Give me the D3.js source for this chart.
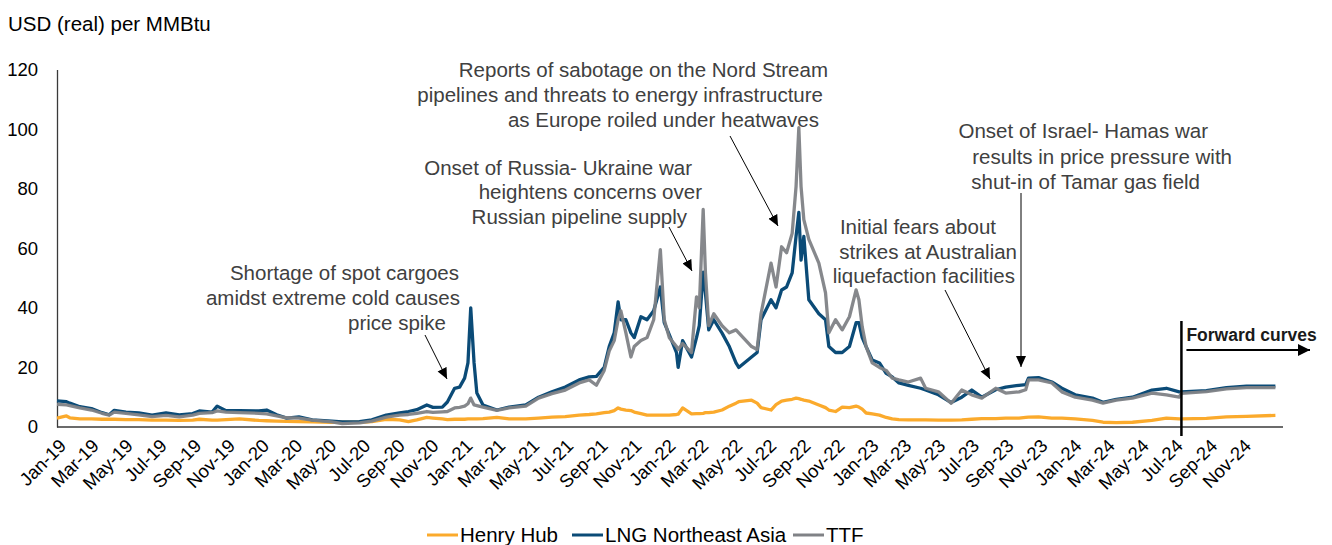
<!DOCTYPE html>
<html>
<head>
<meta charset="utf-8">
<script src="https://cdn.jsdelivr.net/npm/d3@7"></script>
<style>
  body { margin: 0; background: #fff; }
  svg { font-family: "Liberation Sans", Arial, sans-serif; }
</style>
</head>
<body>
<div id="chart"></div>
<script>
// prices, USD (real) per MMBtu
const dates = [
  "2019-01-01","2019-01-18","2019-01-24","2019-02-11","2019-03-04","2019-03-23","2019-04-05","2019-04-14","2019-05-05","2019-05-28",
  "2019-06-21","2019-07-16","2019-08-09","2019-09-02","2019-09-14","2019-10-07","2019-10-16","2019-11-01","2019-11-25","2019-12-30",
  "2020-01-13","2020-01-31","2020-02-18","2020-03-11","2020-04-04","2020-05-09","2020-05-28","2020-06-28","2020-07-20","2020-08-15",
  "2020-09-08","2020-09-24","2020-10-09","2020-10-27","2020-11-07","2020-11-24","2020-12-03","2020-12-16","2020-12-25","2021-01-03",
  "2021-01-09","2021-01-14","2021-01-20","2021-01-25","2021-02-05","2021-03-02","2021-03-24","2021-04-23","2021-05-16","2021-06-09",
  "2021-07-03","2021-07-28","2021-08-15","2021-08-28","2021-09-11","2021-09-20","2021-09-29","2021-10-06","2021-10-11","2021-10-20",
  "2021-10-29","2021-11-04","2021-11-16","2021-11-27","2021-12-09","2021-12-21","2021-12-28","2022-01-06",
  "2022-01-19","2022-01-22","2022-01-30","2022-02-15","2022-02-24","2022-03-01","2022-03-08","2022-03-12","2022-03-18","2022-03-27",
  "2022-04-11","2022-04-24","2022-05-06","2022-05-11","2022-06-03","2022-06-13","2022-06-20","2022-07-08","2022-07-17","2022-07-27",
  "2022-08-05","2022-08-15","2022-08-22","2022-08-27","2022-08-31","2022-09-05","2022-09-14","2022-10-02","2022-10-14","2022-10-20",
  "2022-11-01","2022-11-13","2022-11-26","2022-12-08","2022-12-13","2022-12-19","2022-12-26","2023-01-06",
  "2023-01-19","2023-01-31","2023-02-11","2023-02-23","2023-03-12","2023-04-03","2023-04-12","2023-05-05","2023-05-28","2023-06-16",
  "2023-07-04","2023-07-22","2023-08-16","2023-09-03","2023-09-27","2023-10-09","2023-10-14","2023-11-01","2023-11-25","2023-12-13",
  "2024-01-06",
  "2024-02-06","2024-02-25","2024-03-20","2024-04-18","2024-05-23","2024-06-18","2024-07-11","2024-07-15","2024-08-29","2024-10-04",
  "2024-11-09","2024-12-31"
];

const henryHub = [
  3.0,3.7,3.1,2.7,2.7,2.6,2.6,2.6,2.5,2.5,
  2.3,2.3,2.2,2.3,2.6,2.3,2.3,2.5,2.7,2.2,
  2.1,2.0,1.9,1.8,1.7,1.6,1.6,1.6,1.8,2.6,
  2.4,1.8,2.4,3.2,3.0,2.7,2.5,2.6,2.6,2.6,
  2.7,2.7,2.7,2.7,2.8,3.2,2.7,2.7,3.0,3.3,
  3.5,4.0,4.2,4.4,4.8,5.0,5.5,6.4,6.0,5.7,
  5.5,5.0,4.5,4.0,4.0,4.0,4.0,4.0,
  4.2,4.3,6.4,4.4,4.5,4.5,4.6,4.8,4.8,5.0,
  5.7,7.0,8.0,8.5,9.0,8.0,6.5,5.7,7.5,8.7,
  9.0,9.3,9.7,9.5,9.3,9.0,8.7,7.4,6.5,5.7,
  5.2,6.7,6.5,7.0,6.7,6.0,4.7,4.4,
  4.0,3.2,2.7,2.5,2.4,2.4,2.4,2.3,2.3,2.4,
  2.6,2.8,2.8,3.0,3.0,3.2,3.3,3.4,3.0,3.0,
  2.7,
  2.2,1.6,1.5,1.6,2.2,3.0,2.7,2.7,2.9,3.4,
  3.6,3.9
];

const lngNortheastAsia = [
  8.8,8.5,8.0,6.8,6.2,4.8,4.1,5.6,5.0,4.7,
  4.0,4.7,4.1,4.5,5.4,5.0,7.0,5.5,5.5,5.4,
  5.7,4.1,3.0,3.4,2.4,2.0,1.7,1.8,2.4,4.0,
  4.7,5.2,5.8,7.4,6.6,6.7,8.4,13.0,13.4,16.4,
  21.5,40.0,21.5,11.4,7.4,5.7,6.7,7.4,10.0,11.8,
  13.4,15.8,16.8,17.0,20.0,27.0,31.6,42.0,36.0,36.0,
  31.6,30.0,37.0,36.0,39.0,47.0,35.0,31.0,
  25.0,20.0,29.0,23.5,30.0,34.0,52.0,45.0,32.6,36.0,
  31.5,27.0,21.5,20.0,23.5,25.0,36.0,42.7,40.0,46.0,
  47.0,51.7,64.0,72.0,56.0,64.0,42.7,38.0,36.0,27.0,
  25.0,25.0,27.0,35.0,35.0,30.0,27.0,22.5,
  21.5,18.0,16.8,14.8,14.0,13.0,12.4,10.8,8.2,10.0,
  12.4,10.0,12.5,13.4,14.0,14.2,16.4,16.6,15.1,13.0,
  10.8,
  9.7,8.3,9.3,10.0,12.4,13.0,11.8,11.8,12.2,13.2,
  13.7,13.7
];

const ttf = [
  7.6,7.4,7.2,6.4,5.7,4.6,4.0,5.0,4.6,4.1,
  3.5,3.9,3.4,4.0,4.6,4.8,5.4,5.0,4.8,4.6,
  4.4,3.7,3.1,3.0,2.3,1.7,1.1,1.4,2.0,3.3,
  4.0,4.2,4.6,5.2,4.9,5.1,5.2,6.4,6.6,7.0,
  7.8,9.7,7.4,7.2,6.7,5.6,6.4,7.0,9.7,11.2,
  12.4,14.8,15.8,14.0,19.0,25.5,29.0,36.0,39.0,31.6,
  23.5,27.0,29.0,30.0,36.0,59.5,36.0,30.0,
  27.0,26.0,28.0,25.0,43.7,40.0,73.0,52.0,34.0,38.0,
  34.0,31.6,32.6,31.6,27.0,26.0,38.0,55.0,47.0,60.5,
  58.5,65.0,80.7,100.5,80.7,69.6,63.0,55.0,45.0,31.6,
  36.0,32.6,37.0,46.0,42.7,33.6,27.0,21.5,
  20.0,19.0,16.4,15.8,15.1,16.4,13.0,11.8,8.0,12.4,
  10.8,9.7,13.0,11.4,11.8,12.5,15.8,15.8,14.8,11.8,
  10.0,
  9.0,8.0,9.0,9.7,11.4,10.8,10.0,11.3,11.9,12.8,
  13.2,13.2
];

const seriesNames = ["Henry Hub", "LNG Northeast Asia", "TTF"];
const seriesColors = ["#FBAA2C", "#0B4B77", "#808286"];
const yTicks = [0, 20, 40, 60, 80, 100, 120];
const forwardStart = "2024-07-15";

const annotations = [
  { lines: [["Shortage of spot cargoes", 459, 280], ["amidst extreme cold causes", 460, 305], ["price spike", 446, 330]],
    arrow: [425, 335, 447, 379] },
  { lines: [["Onset of Russia- Ukraine war", 692, 175], ["heightens concerns over", 702, 199], ["Russian pipeline supply", 687, 224]],
    arrow: [669, 227, 692, 271] },
  { lines: [["Reports of sabotage on the Nord Stream", 828, 77], ["pipelines and threats to energy infrastructure", 823, 102], ["as Europe roiled under heatwaves", 819, 127]],
    arrow: [730, 136, 778, 226] },
  { lines: [["Initial fears about", 996, 234], ["strikes at Australian", 1017, 259], ["liquefaction facilities", 1015, 283]],
    arrow: [945, 290, 990, 379] },
  { lines: [["Onset of Israel- Hamas war", 1208, 138], ["results in price pressure with", 1232, 164], ["shut-in of Tamar gas field", 1200, 189]],
    arrow: [1021, 193, 1021, 367] }
];

const width = 1332, height = 545;
const parse = d3.timeParse("%Y-%m-%d");

const svg = d3.select("#chart").append("svg")
  .attr("width", width)
  .attr("height", height);

svg.append("defs").append("marker")
  .attr("id", "head")
  .attr("markerUnits", "userSpaceOnUse")
  .attr("markerWidth", 12)
  .attr("markerHeight", 12)
  .attr("refX", 11)
  .attr("refY", 5)
  .attr("orient", "auto")
  .append("path")
  .attr("d", "M0,0 L11,5 L0,10 Z")
  .attr("fill", "#000");

svg.select("defs").append("marker")
  .attr("id", "headBig")
  .attr("markerUnits", "userSpaceOnUse")
  .attr("markerWidth", 14)
  .attr("markerHeight", 14)
  .attr("refX", 12)
  .attr("refY", 6)
  .attr("orient", "auto")
  .append("path")
  .attr("d", "M0,0 L12,6 L0,12 Z")
  .attr("fill", "#000");

const x = d3.scaleTime()
  .domain([new Date(2019, 0, 1), new Date(2025, 0, 1)])
  .range([57, 57 + 72 * 16.93]);

const y = d3.scaleLinear()
  .domain([0, 120])
  .range([427, 69.5]);

// y axis
const yAxis = svg.append("g")
  .attr("transform", "translate(57,0)")
  .call(d3.axisLeft(y).tickValues(yTicks).tickSize(0).tickPadding(19));
yAxis.select(".domain").attr("stroke", "#3a3a3a").attr("stroke-width", 1.3);
yAxis.selectAll("text")
  .attr("fill", "#000")
  .style("font-size", "18.5px")
  .style("font-family", "Liberation Sans, Arial, sans-serif");

// x axis, labels mid-month every second month
const monthTicks = d3.timeMonth.range(new Date(2019, 0, 1), new Date(2025, 0, 1), 2)
  .map((d) => new Date(d.getFullYear(), d.getMonth(), 15));

const xAxis = svg.append("g")
  .attr("transform", `translate(0,${y(0)})`)
  .call(d3.axisBottom(x).tickValues(monthTicks).tickSize(0).tickFormat(d3.timeFormat("%b-%y")));
xAxis.select(".domain").remove();
xAxis.selectAll("text")
  .attr("x", 0)
  .attr("y", 0)
  .attr("dy", 0)
  .attr("transform", "translate(2,20) rotate(-45)")
  .style("text-anchor", "end")
  .style("font-size", "18.5px")
  .style("font-family", "Liberation Sans, Arial, sans-serif")
  .attr("fill", "#000");

svg.append("line")
  .attr("x1", 57).attr("x2", 1283)
  .attr("y1", y(0)).attr("y2", y(0))
  .attr("stroke", "#3a3a3a")
  .attr("stroke-width", 1.3);

svg.append("text")
  .attr("x", 8)
  .attr("y", 31)
  .style("font-size", "20.5px")
  .attr("fill", "#000")
  .text("USD (real) per MMBtu");

// series
const seriesValues = [henryHub, lngNortheastAsia, ttf];
const series = seriesNames.map((name, i) => ({
  name: name,
  color: seriesColors[i],
  points: dates.map((d, j) => ({ date: parse(d), value: seriesValues[i][j] }))
}));

const line = d3.line()
  .x((d) => x(d.date))
  .y((d) => y(d.value));

svg.append("g")
  .attr("fill", "none")
  .attr("stroke-linejoin", "round")
  .selectAll("path")
  .data(series)
  .join("path")
  .attr("stroke", (d) => d.color)
  .attr("stroke-width", 3.3)
  .attr("opacity", (d) => (d.name === "TTF" ? 0.95 : 1))
  .attr("d", (d) => line(d.points));

// forward curves marker
const fx = x(parse(forwardStart));
svg.append("line")
  .attr("x1", fx).attr("x2", fx)
  .attr("y1", 321).attr("y2", 436)
  .attr("stroke", "#000")
  .attr("stroke-width", 2.5);

svg.append("text")
  .attr("x", fx + 5)
  .attr("y", 341)
  .style("font-size", "17.5px")
  .style("font-weight", "bold")
  .attr("fill", "#1a1a1a")
  .text("Forward curves");

svg.append("line")
  .attr("x1", fx + 5).attr("x2", 1310)
  .attr("y1", 350).attr("y2", 350)
  .attr("stroke", "#000")
  .attr("stroke-width", 2)
  .attr("marker-end", "url(#headBig)");

// annotations
const notes = svg.append("g").attr("fill", "#404040").style("font-size", "20.5px");
annotations.forEach((a) => {
  a.lines.forEach(([t, lx, ly]) => {
    notes.append("text")
      .attr("x", lx)
      .attr("y", ly)
      .attr("text-anchor", "end")
      .text(t);
  });
  svg.append("line")
    .attr("x1", a.arrow[0]).attr("y1", a.arrow[1])
    .attr("x2", a.arrow[2]).attr("y2", a.arrow[3])
    .attr("stroke", "#000")
    .attr("stroke-width", 1)
    .attr("marker-end", "url(#head)");
});

// legend
const legendX = [427, 572, 793];
const legend = svg.append("g")
  .selectAll("g")
  .data(series)
  .join("g")
  .attr("transform", (d, i) => `translate(${legendX[i]},535)`);

legend.append("line")
  .attr("x1", 0).attr("x2", 31)
  .attr("stroke", (d) => d.color)
  .attr("stroke-width", 3);

legend.append("text")
  .attr("x", 33)
  .attr("y", 7)
  .style("font-size", "20.5px")
  .attr("fill", "#000")
  .text((d) => d.name);
</script>
</body>
</html>
